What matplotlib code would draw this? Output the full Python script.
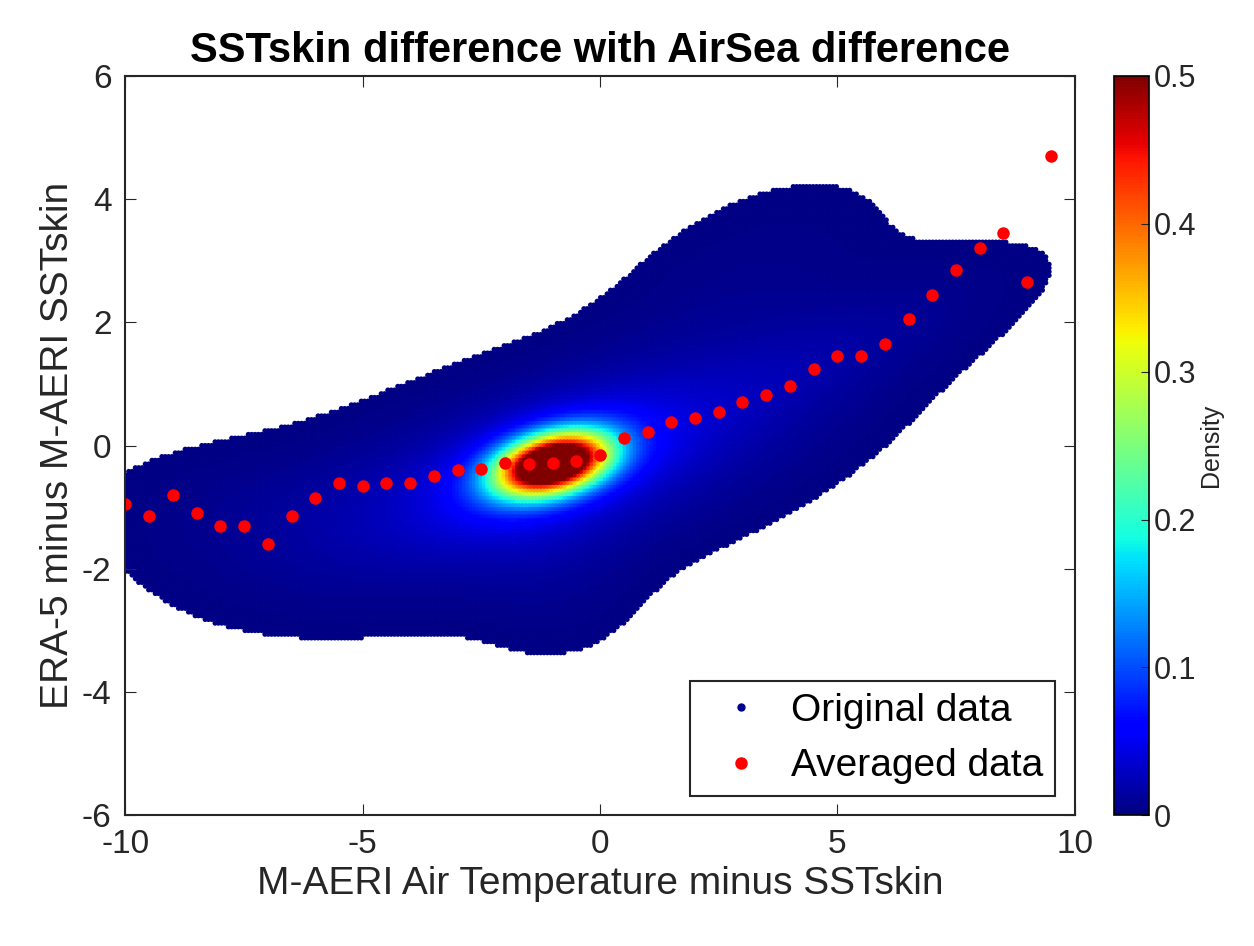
import numpy as np
import matplotlib
matplotlib.use("Agg")
import matplotlib.pyplot as plt
from matplotlib.ticker import FuncFormatter

plt.rcParams['font.family'] = ['Liberation Sans', 'DejaVu Sans']
plt.rcParams['axes.unicode_minus'] = False

avg_x = [-10, -9.5, -9, -8.5, -8, -7.5, -7, -6.5, -6, -5.5, -5, -4.5, -4, -3.5, -3, -2.5, -2, -1.5, -1, -0.5,
         0, 0.5, 1, 1.5, 2, 2.5, 3, 3.5, 4, 4.5, 5, 5.5, 6, 6.5, 7, 7.5, 8, 8.5, 9, 9.5]
avg_y = [-0.95, -1.15, -0.8, -1.1, -1.3, -1.3, -1.6, -1.15, -0.85, -0.6, -0.65, -0.6, -0.6, -0.5, -0.4, -0.38,
         -0.28, -0.3, -0.28, -0.25, -0.15, 0.12, 0.22, 0.38, 0.45, 0.55, 0.7, 0.82, 0.97, 1.25, 1.45, 1.45,
         1.65, 2.05, 2.45, 2.85, 3.2, 3.45, 2.65, 4.7]

# estimated density components of the point cloud: cx, cy, sx, sy, slope, weight
comp_cx = [-1.0, -1.0, -1.0, 4.5, 3.0, -7.0, -1.0]
comp_cy = [-0.4, -0.3, -0.3, 1.4, 2.5, -1.1, -2.0]
comp_sx = [3.2, 0.75, 1.3, 2.6, 2.0, 2.4, 1.2]
comp_sy = [0.9, 0.3, 0.5, 0.6, 1.0, 0.75, 0.9]
comp_sl = [0.2, 0.15, 0.2, 0.3, 0.3, 0.0, 0.0]
comp_w = [0.04, 0.62, 0.08, 0.012, 0.006, 0.006, 0.006]

gx = np.arange(-10, 10, 0.07)
gy = np.arange(-6, 6, 0.06)
X, Y = np.meshgrid(gx, gy)
D = np.zeros_like(X)
for cx, cy, sx, sy, sl, w in zip(comp_cx, comp_cy, comp_sx, comp_sy, comp_sl, comp_w):
    dx = X - cx
    dy = Y - cy - sl * dx
    D += w * np.exp(-0.5 * ((dx / sx) ** 2 + (dy / sy) ** 2))
m = D > 0.002
xs, ys, ds = X[m], Y[m], D[m]
o = np.argsort(ds)

fig = plt.figure(figsize=(12.54, 9.46), dpi=100)
ax = fig.add_axes([0.1, 0.138, 0.757, 0.782])
sc = ax.scatter(xs[o], ys[o], c=ds[o], cmap='jet', vmin=0, vmax=0.5, s=14, linewidths=0)
ax.plot([], [], 'o', color='#00008f', ms=5, label='Original data')
ax.plot(avg_x, avg_y, 'o', color='red', ms=9, mec='none', label='Averaged data')
ax.set_xlim(-10, 10)
ax.set_ylim(-6, 6)
ax.set_xticks([-10, -5, 0, 5, 10])
ax.set_yticks([-6, -4, -2, 0, 2, 4, 6])
ax.tick_params(labelsize=24, direction='in', length=8, pad=10, top=True, right=True,
               color='#262626', labelcolor='#262626')
for s in ax.spines.values():
    s.set_linewidth(1.5); s.set_color('#262626')
ax.set_xlabel('M-AERI Air Temperature minus SSTskin', fontsize=28, color='#262626')
ax.set_ylabel('ERA-5 minus M-AERI SSTskin', fontsize=28, color='#262626')
ax.set_title('SSTskin difference with AirSea difference', fontsize=30, fontweight='bold', pad=10)
leg = ax.legend(loc='lower right', fontsize=28, fancybox=False, edgecolor='#262626', framealpha=1,
                handletextpad=0.3, borderpad=0.3, markerscale=1)
leg.get_frame().set_linewidth(1.5)

cax = fig.add_axes([0.888, 0.138, 0.028, 0.782])
cb = fig.colorbar(sc, cax=cax)
cb.set_ticks([0, 0.1, 0.2, 0.3, 0.4, 0.5])
cb.ax.yaxis.set_major_formatter(FuncFormatter(lambda v, p: '0' if v == 0 else f'{v:.1f}'))
cb.ax.tick_params(labelsize=22, direction='in', length=6, colors='#262626')
cb.set_label('Density', fontsize=18, color='#262626', labelpad=2)
cb.outline.set_linewidth(1.2)
fig.savefig('out.png', dpi=100)
